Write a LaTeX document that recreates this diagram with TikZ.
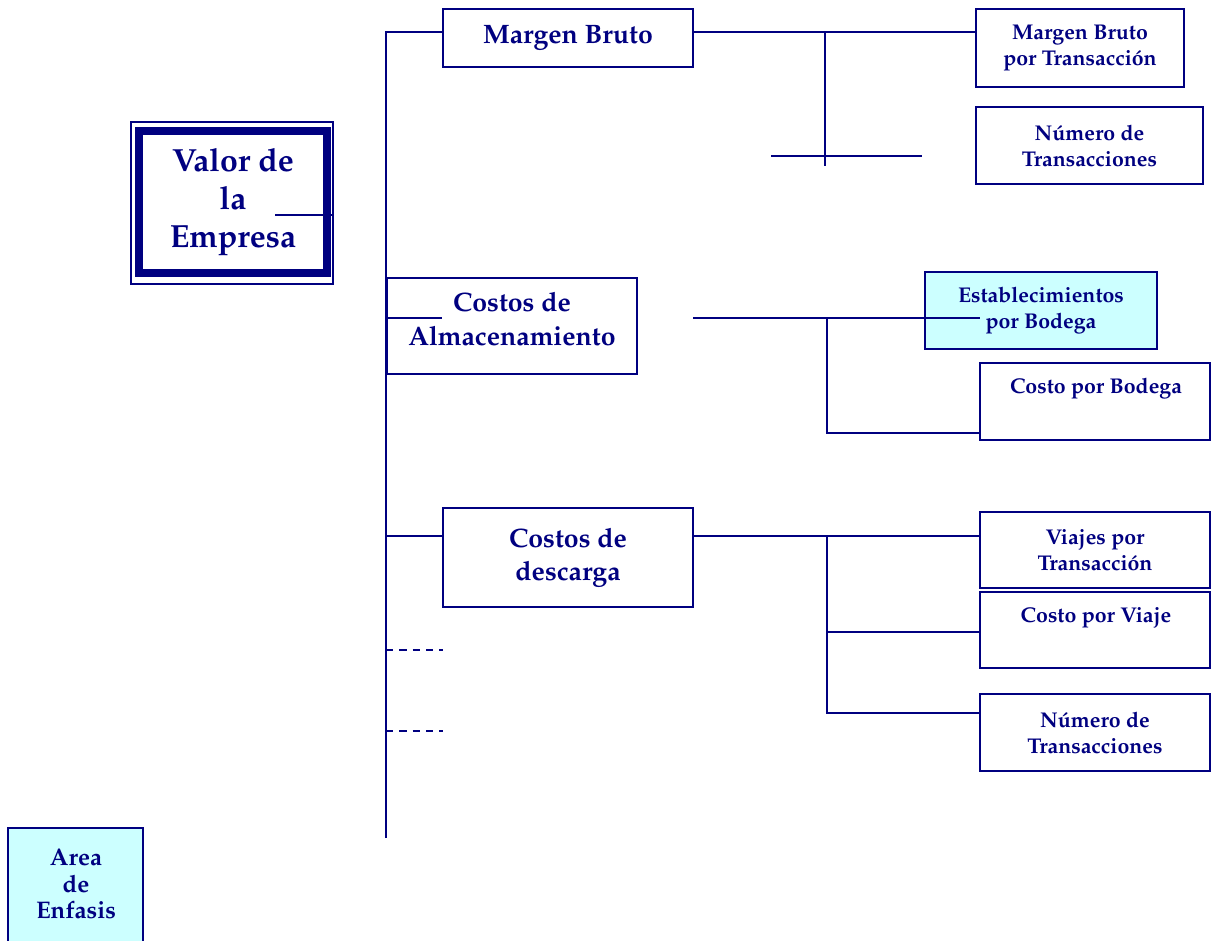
\documentclass[tikz,border=0pt]{standalone}
\usepackage[T1]{fontenc}
\renewcommand{\rmdefault}{ppl}
\definecolor{navy}{RGB}{0,0,128}
\definecolor{emph}{RGB}{204,255,255}
\tikzset{
  link/.style={draw=navy, line width=1.5pt},
  dashlink/.style={link, dash pattern=on 5.5pt off 4.5pt},
  small/.style={font=\bfseries\fontsize{16}{19.5}\selectfont},
  large/.style={font=\bfseries\fontsize{20}{25}\selectfont},
  box/.style={draw=navy, line width=1.5pt, fill=white, inner sep=0pt,
    align=center, text=navy, small},
  bigbox/.style={box, large},
  hot/.style={box, fill=emph},
  txt/.style={inner sep=0pt, align=center, text=navy},
}
\begin{document}
\begin{tikzpicture}[x=0.75pt, y=-0.75pt]
\useasboundingbox (0,0) rectangle (1211,941);

% trunk coordinates and branch points
\coordinate (ttop) at (386,32);
\coordinate (tbot) at (386,838);
\coordinate (t2) at (386,318);
\coordinate (t3) at (386,536);
\coordinate (t4) at (386,650);
\coordinate (t5) at (386,731);
\coordinate (d4) at (443,650);
\coordinate (d5) at (443,731);

% company value box with double frame
\node[draw=navy, line width=6.5pt, outer sep=0pt, minimum width=141pt, minimum height=106.5pt,
      txt, font=\bfseries\fontsize{24}{28.5}\selectfont] (valor) at (233,202)
      {Valor de\\la\\Empresa};
\draw[navy, line width=1pt] ([shift={(-6pt,6.75pt)}]valor.north west)
      rectangle ([shift={(4.5pt,-8.25pt)}]valor.south east);
\coordinate (vin) at (275,215);
\coordinate (vout) at (333,215);
\draw[link] (vin) -- (vout);

% first level
\node[bigbox, minimum width=187.5pt, minimum height=43.5pt] (mb) at (568,38) {Margen Bruto};
\node[bigbox, minimum width=187.5pt, minimum height=72pt] (ca) at (512,326) {};
\node[txt, large] (cat) at (512,319) {Costos de\\Almacenamiento};
\node[bigbox, minimum width=187.5pt, minimum height=74.25pt] (cd) at (568,557.5) {Costos de\\descarga};

% second level
\node[box, minimum width=156pt, minimum height=58.5pt] (mbt) at (1080,48) {Margen Bruto\\por Transacci\'on};
\node[box, minimum width=170.25pt, minimum height=57.75pt] (nt1) at (1089.5,145.5) {N\'umero de\\Transacciones};
\node[hot, minimum width=174pt, minimum height=57.75pt] (est) at (1041,310.5) {Establecimientos\\por Bodega};
\node[box, minimum width=172.5pt, minimum height=57.75pt] (cb) at (1095,401.5) {};
\node[txt, small] (cbt) at (1096,389) {Costo por Bodega};
\node[box, minimum width=172.5pt, minimum height=57pt] (vt) at (1095,550) {Viajes por\\Transacci\'on};
\node[box, minimum width=172.5pt, minimum height=57pt] (cv) at (1095,630) {};
\node[txt, small] (cvt) at (1096,618) {Costo por Viaje};
\node[box, minimum width=172.5pt, minimum height=57.75pt] (nt2) at (1095,732.5) {N\'umero de\\Transacciones};

% emphasis legend
\node[hot, minimum width=101.25pt, minimum height=90pt] (ae) at (75.5,888) {};
\node[txt, font=\bfseries\fontsize{18}{20}\selectfont] (aet) at (76,884) {Area\\de\\Enfasis};

% trunk and first-level links
\draw[link] (tbot) -- (ttop) -- (ttop -| mb.west);
\draw[link] (t2) -- (t2 -| mb.west);
\draw[link] (t3) -- (t3 -| cd.west);
\draw[dashlink] (t4) -- (d4);
\draw[dashlink] (t5) -- (d5);

% margin branch
\coordinate (b1) at (825,32);
\coordinate (b1b) at (825,166);
\coordinate (h1a) at (771,156);
\coordinate (h1b) at (922,156);
\draw[link] (mb.east |- ttop) -- (mbt.west |- ttop);
\draw[link] (b1) -- (b1b);
\draw[link] (h1a) -- (h1b);

% storage branch
\coordinate (s2) at (693,318);
\coordinate (b2) at (827,318);
\coordinate (b2b) at (827,433);
\coordinate (e2) at (980,318);
\draw[link] (s2) -- (e2);
\draw[link] (b2) -- (b2b) -- (b2b -| cb.west);

% unloading branch
\coordinate (b3) at (827,536);
\coordinate (b3m) at (827,632);
\coordinate (b3b) at (827,713);
\draw[link] (cd.east |- t3) -- (t3 -| vt.west);
\draw[link] (b3) -- (b3b) -- (b3b -| nt2.west);
\draw[link] (b3m) -- (b3m -| cv.west);
\end{tikzpicture}
\end{document}
